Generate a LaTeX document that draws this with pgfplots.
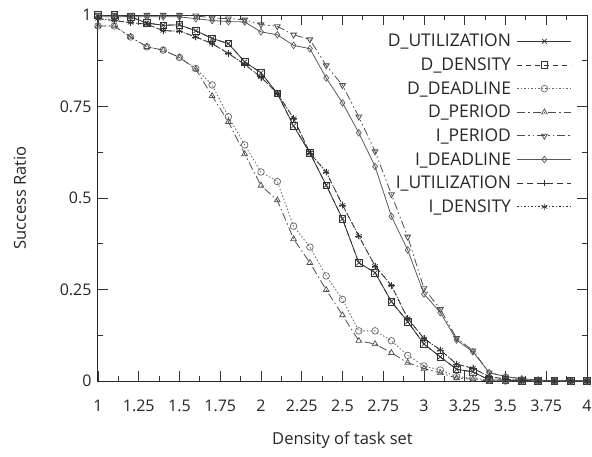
\documentclass[border=0pt]{standalone}
\usepackage{fontspec}
\setmainfont{Open Sans}
\usepackage{pgfplots}
\usepackage{pgfplotstable}
\pgfplotsset{compat=1.18}
\pgfplotstableread{
x    DU     DD     DDL    DP     IP     IDL    IU     ID
1.0  1.000  1.000  0.970  0.970  1.000  0.995  0.990  0.990
1.1  1.000  1.000  0.970  0.970  1.000  0.995  0.985  0.985
1.2  0.995  0.995  0.940  0.940  1.000  0.995  0.979  0.979
1.3  0.978  0.978  0.913  0.913  1.000  0.995  0.975  0.975
1.4  0.972  0.972  0.904  0.904  1.000  0.995  0.957  0.957
1.5  0.973  0.973  0.884  0.884  1.000  0.995  0.956  0.956
1.6  0.957  0.957  0.854  0.852  0.998  0.990  0.940  0.940
1.7  0.936  0.936  0.809  0.779  0.992  0.985  0.922  0.922
1.8  0.922  0.922  0.722  0.708  0.990  0.982  0.895  0.895
1.9  0.872  0.872  0.645  0.620  0.987  0.981  0.865  0.865
2.0  0.842  0.842  0.571  0.534  0.974  0.954  0.830  0.830
2.1  0.786  0.786  0.545  0.494  0.969  0.946  0.786  0.786
2.2  0.697  0.697  0.423  0.388  0.946  0.917  0.718  0.718
2.3  0.623  0.623  0.366  0.323  0.933  0.908  0.623  0.623
2.4  0.535  0.535  0.287  0.249  0.862  0.828  0.571  0.571
2.5  0.443  0.443  0.223  0.180  0.808  0.760  0.481  0.481
2.6  0.323  0.323  0.137  0.110  0.722  0.678  0.396  0.396
2.7  0.296  0.296  0.137  0.101  0.627  0.586  0.314  0.314
2.8  0.217  0.217  0.110  0.077  0.510  0.450  0.261  0.261
2.9  0.162  0.162  0.070  0.050  0.394  0.358  0.171  0.171
3.0  0.101  0.101  0.041  0.034  0.253  0.238  0.116  0.116
3.1  0.066  0.066  0.030  0.022  0.196  0.187  0.085  0.085
3.2  0.032  0.032  0.012  0.008  0.117  0.112  0.046  0.046
3.3  0.025  0.025  0.008  0.005  0.083  0.080  0.035  0.035
3.4  0.003  0.003  0.002  0.000  0.023  0.023  0.012  0.012
3.5  0.003  0.003  0.000  0.000  0.012  0.012  0.005  0.005
3.6  0.000  0.000  0.000  0.000  0.006  0.006  0.002  0.002
3.7  0.000  0.000  0.000  0.000  0.003  0.003  0.000  0.000
3.8  0.000  0.000  0.000  0.000  0.000  0.000  0.000  0.000
3.9  0.000  0.000  0.000  0.000  0.000  0.000  0.000  0.000
4.0  0.000  0.000  0.000  0.000  0.000  0.000  0.000  0.000
}\datatable
\begin{document}
\begin{tikzpicture}
\begin{axis}[
  scale only axis,
  width=489pt, height=366pt,
  xmin=1, xmax=4, ymin=0, ymax=1,
  xtick={1,1.25,...,4},
  ytick={0,0.25,0.5,0.75,1},
  minor tick num=1,
  major tick length=10pt,
  minor tick length=5pt,
  tick style={black!80, line width=0.8pt},
  axis line style={black!85, line width=1pt},
  /pgf/number format/assume math mode=true,
  tick label style={font=\fontsize{16}{19}\selectfont, black!85},
  label style={font=\fontsize{16.5}{19}\selectfont, black!85},
  xticklabel style={anchor=center, yshift=-25pt},
  yticklabel style={anchor=east, xshift=-3pt},
  xlabel={Density of task set},
  ylabel={Success Ratio},
  xlabel style={at={(rel axis cs:0.5,0)}, anchor=center, yshift=-59pt},
  ylabel style={at={(rel axis cs:0,0.5)}, anchor=center, yshift=78pt},
  legend plot pos=right,
  legend cell align=right,
  legend style={draw=none, fill=none, at={(rel axis cs:1,1)}, anchor=north east,
    xshift=-12pt, yshift=-15pt, row sep=5.5pt, column sep=4pt,
    font=\fontsize{17.5}{21}\selectfont, text=black!85},
  legend image code/.code={\draw[mark repeat=2,mark phase=2] plot coordinates {(0pt,0pt) (27pt,0pt) (54pt,0pt)};},
  every axis plot/.append style={line width=0.8pt, mark size=3.3pt, mark options={solid, line width=0.7pt}},
]
\addplot[black!80, solid, mark=x] table[x=x,y=DU]{\datatable};
\addlegendentry{D\_UTILIZATION}
\addplot[black!80, dash pattern=on 5pt off 4pt, mark=square] table[x=x,y=DD]{\datatable};
\addlegendentry{D\_DENSITY}
\addplot[black!60, dash pattern=on 1.5pt off 2pt, mark=o] table[x=x,y=DDL]{\datatable};
\addlegendentry{D\_DEADLINE}
\addplot[black!70, dash pattern=on 8pt off 3pt on 1.5pt off 3pt, mark=triangle] table[x=x,y=DP]{\datatable};
\addlegendentry{D\_PERIOD}
\addplot[black!70, dash pattern=on 8pt off 3pt on 1.5pt off 3pt on 1.5pt off 3pt, mark=triangle, mark options={solid, rotate=180}] table[x=x,y=IP]{\datatable};
\addlegendentry{I\_PERIOD}
\addplot[black!65, solid, mark=diamond] table[x=x,y=IDL]{\datatable};
\addlegendentry{I\_DEADLINE}
\addplot[black!80, dash pattern=on 6pt off 4pt, mark=+] table[x=x,y=IU]{\datatable};
\addlegendentry{I\_UTILIZATION}
\addplot[black!80, dash pattern=on 1.5pt off 2pt, mark=asterisk] table[x=x,y=ID]{\datatable};
\addlegendentry{I\_DENSITY}
\end{axis}
\pgfresetboundingbox
\path (-98pt,-75pt) rectangle (494pt,381pt);
\end{tikzpicture}
\end{document}
